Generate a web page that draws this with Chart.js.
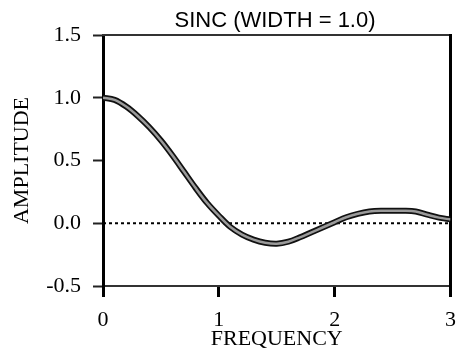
<!DOCTYPE html>
<html><head><meta charset="utf-8">
<script src="https://cdn.jsdelivr.net/npm/chart.js@4/dist/chart.umd.min.js"></script>
<style>html,body{margin:0;padding:0;background:#fff}#wrap{width:466px;height:359px;position:relative}</style>
</head><body><div id="wrap"><canvas id="c" width="466" height="359"></canvas></div>
<script>
const frequency = [0.0,0.1,0.2,0.3,0.4,0.5,0.6,0.7,0.8,0.9,1.0,1.1,1.2,1.3,1.4,1.5,1.6,1.7,1.8,1.9,2.0,2.1,2.2,2.3,2.4,2.5,2.6,2.7,2.8,2.9,3.0];
const amplitude = [1.00,0.983,0.93,0.855,0.765,0.66,0.54,0.41,0.28,0.16,0.06,-0.03,-0.09,-0.13,-0.155,-0.163,-0.147,-0.112,-0.072,-0.032,0.008,0.048,0.075,0.093,0.10,0.10,0.10,0.093,0.068,0.045,0.03];
const zeroLineX = [0, 3];
const zeroLineY = [0, 0];
const xTickValues = [0, 1, 2, 3];
const yTickValues = [-0.5, 0.0, 0.5, 1.0, 1.5];
const titleText = 'SINC (WIDTH = 1.0)';
const xAxisTitle = 'FREQUENCY';
const yAxisTitle = 'AMPLITUDE';

const curvePts = frequency.map((f, i) => ({x: f, y: amplitude[i]}));
const zeroPts = zeroLineX.map((f, i) => ({x: f, y: zeroLineY[i]}));
const serif = '"Liberation Serif", "Times New Roman", serif';

const titlePlugin = {
  id: 'mainTitle',
  afterDraw(chart) {
    const ctx = chart.ctx;
    ctx.save();
    ctx.font = '22px "Liberation Sans", Arial, sans-serif';
    ctx.fillStyle = '#000';
    ctx.textAlign = 'center';
    ctx.textBaseline = 'alphabetic';
    ctx.fillText(titleText, 275, 27);
    ctx.restore();
  }
};

new Chart(document.getElementById('c'), {
  type: 'line',
  data: {
    datasets: [
      {data: curvePts, borderColor: '#9a9a9a', borderWidth: 2.5, pointRadius: 0, tension: 0.35, fill: false},
      {data: curvePts, borderColor: '#111', borderWidth: 6, pointRadius: 0, tension: 0.35, fill: false},
      {data: zeroPts, borderColor: '#000', borderWidth: 2, borderDash: [3, 3], pointRadius: 0, fill: false}
    ]
  },
  options: {
    responsive: false,
    animation: false,
    devicePixelRatio: 1,
    layout: {padding: {top: 35, right: 7, left: 0, bottom: 0}},
    plugins: {legend: {display: false}, tooltip: {enabled: false}, title: {display: false}},
    scales: {
      x: {
        type: 'linear', position: 'bottom', min: 0, max: 3,
        afterBuildTicks: s => { s.ticks = xTickValues.map(v => ({value: v})); },
        afterFit: s => { s.height = 73; },
        ticks: {font: {family: serif, size: 22}, color: '#000', padding: 10, maxRotation: 0, callback: v => String(v)},
        grid: {drawOnChartArea: false, drawTicks: true, tickLength: 11, tickWidth: 3, tickColor: '#000'},
        border: {color: '#333', width: 2},
        title: {display: true, text: xAxisTitle, font: {family: serif, size: 22}, color: '#000', padding: {top: 0, bottom: 7}}
      },
      y: {
        type: 'linear', position: 'left', min: -0.5, max: 1.5,
        afterBuildTicks: s => { s.ticks = yTickValues.map(v => ({value: v})); },
        afterFit: s => { s.width = 103; },
        ticks: {font: {family: serif, size: 22}, color: '#000', padding: 12, callback: v => Number(v).toFixed(1)},
        grid: {drawOnChartArea: false, drawTicks: true, tickLength: 10, tickWidth: 2, tickColor: '#222'},
        border: {color: '#000', width: 3},
        title: {display: true, text: yAxisTitle, font: {family: serif, size: 22}, color: '#000', padding: {top: 9, bottom: 0}}
      },
      x2: {
        type: 'linear', position: 'top', min: 0, max: 3, display: true,
        afterFit: s => { s.height = 0; },
        ticks: {display: false},
        grid: {drawOnChartArea: false, drawTicks: false},
        border: {color: '#333', width: 2}
      },
      y2: {
        type: 'linear', position: 'right', min: -0.5, max: 1.5, display: true,
        afterFit: s => { s.width = 0; },
        ticks: {display: false},
        grid: {drawOnChartArea: false, drawTicks: false},
        border: {color: '#000', width: 3}
      }
    }
  },
  plugins: [titlePlugin]
});
</script>
</body></html>
